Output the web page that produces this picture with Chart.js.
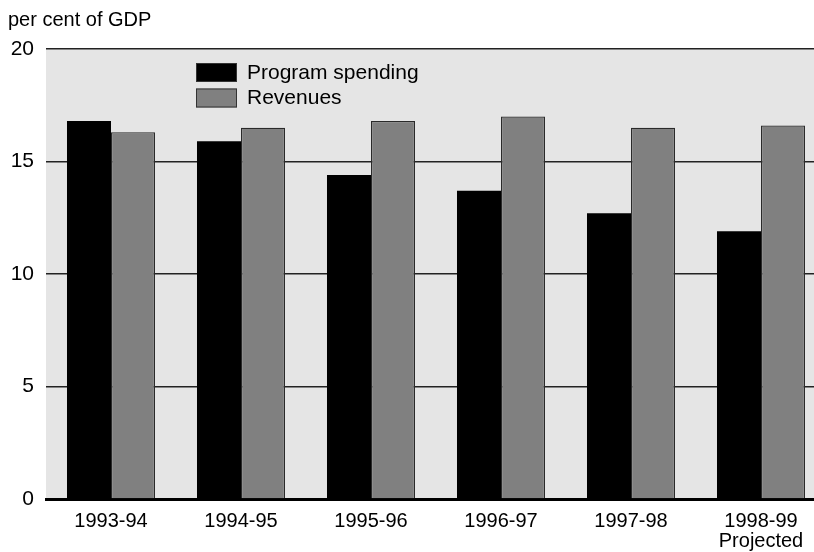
<!DOCTYPE html>
<html>
<head>
<meta charset="utf-8">
<script src="https://cdn.jsdelivr.net/npm/chart.js@4.4.0/dist/chart.umd.min.js"></script>
<style>
  html, body { margin: 0; padding: 0; overflow: hidden; background: #ffffff; }
  #wrap { width: 830px; height: 552px; }
</style>
</head>
<body>
<div id="wrap"><canvas id="c" width="830" height="552"></canvas></div>
<script>
const categories = ["1993-94", "1994-95", "1995-96", "1996-97", "1997-98", ["1998-99", "Projected"]];
const programSpending = [16.8, 15.9, 14.4, 13.7, 12.7, 11.9];
const revenues = [16.3, 16.5, 16.8, 17.0, 16.5, 16.6];
const yTicks = [0, 5, 10, 15, 20];
const unitLabel = "per cent of GDP";

const FONT = "'Liberation Sans', Arial, Helvetica, sans-serif";

const bgPlugin = {
  id: 'bg',
  beforeDraw(chart) {
    const { ctx, chartArea: a } = chart;
    ctx.save();
    ctx.fillStyle = '#e5e5e5';
    ctx.fillRect(a.left, a.top, a.right - a.left, a.bottom - a.top);
    ctx.restore();
  },
  afterDraw(chart) {
    const { ctx } = chart;
    ctx.save();
    ctx.fillStyle = '#000';
    ctx.font = '20px ' + FONT;
    ctx.textBaseline = 'middle';
    ctx.textAlign = 'left';
    ctx.fillText(unitLabel, 8, 20);
    // legend
    const items = chart.data.datasets;
    items.forEach((ds, i) => {
      const y = 63 + i * 25.5;
      ctx.fillStyle = ds.backgroundColor;
      ctx.fillRect(196, y, 41, 19);
      ctx.lineWidth = 1;
      ctx.strokeStyle = '#333';
      ctx.strokeRect(196.5, y + 0.5, 40, 18);
      ctx.fillStyle = '#000';
      ctx.font = '21px ' + FONT;
      ctx.fillText(ds.label, 247, y + 10);
    });
    ctx.restore();
  }
};

new Chart(document.getElementById('c'), {
  type: 'bar',
  data: {
    labels: categories,
    datasets: [
      { label: 'Program spending', data: programSpending, backgroundColor: '#000000', borderColor: '#000000', borderWidth: 0 },
      { label: 'Revenues', data: revenues, backgroundColor: '#808080', borderColor: '#2a2a2a', borderWidth: 1.2 }
    ]
  },
  options: {
    responsive: false,
    animation: false,
    layout: { padding: { top: 49, right: 4, left: 0, bottom: 0 } },
    datasets: { bar: { categoryPercentage: 0.677, barPercentage: 1.0 } },
    plugins: { legend: { display: false }, tooltip: { enabled: false } },
    scales: {
      x: {
        grid: { display: false },
        border: { display: true, color: '#000', width: 3 },
        ticks: { color: '#000', font: { family: FONT, size: 20, lineHeight: 1.0 }, padding: 4, maxRotation: 0, autoSkip: false },
        afterFit(s) { s.height = 53; }
      },
      y: {
        min: 0, max: 20,
        afterBuildTicks(s) { s.ticks = yTicks.map(v => ({ value: v })); },
        grid: { color: '#222', lineWidth: 1.5, drawTicks: false },
        border: { display: false },
        ticks: { color: '#000', font: { family: FONT, size: 21 }, padding: 12 },
        afterFit(s) { s.width = 46; }
      }
    }
  },
  plugins: [bgPlugin]
});
</script>
</body>
</html>
